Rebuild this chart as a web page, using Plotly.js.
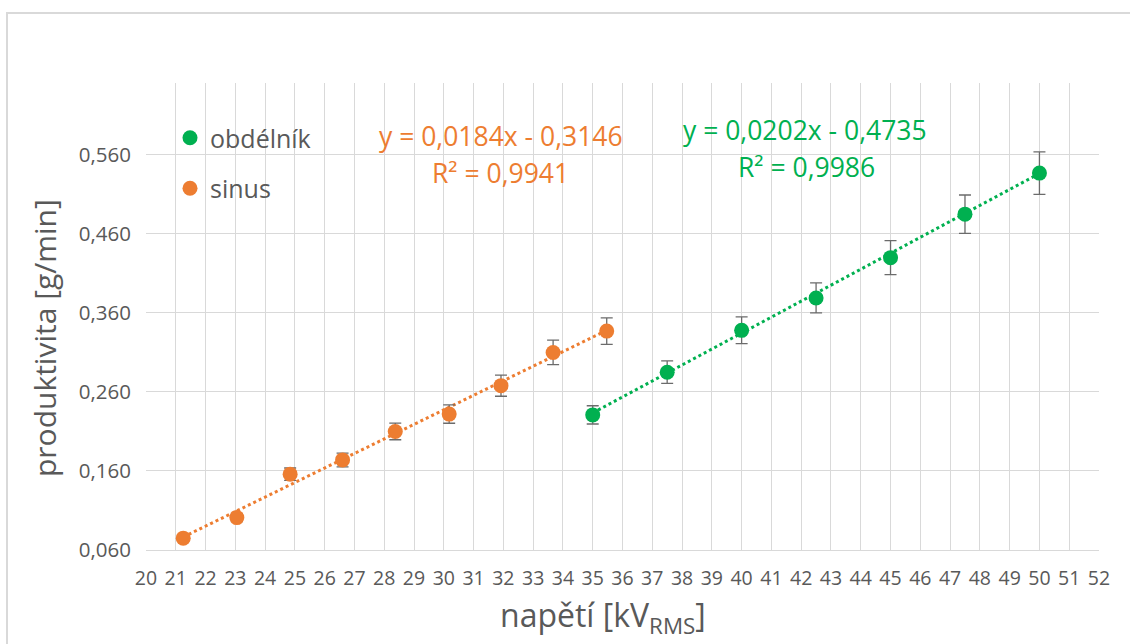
<!DOCTYPE html>
<html>
<head>
<meta charset="utf-8">
<script src="https://cdn.plot.ly/plotly-3.0.1.min.js"></script>
<style>
  html, body { margin: 0; padding: 0; background: #ffffff; }
  #chart { width: 1130px; height: 644px; }
</style>
</head>
<body>
<div id="chart"></div>
<script>
// ---- data ----
const seriesNames = ["obdélník", "sinus"];

const obdelnikX = [35.0, 37.5, 40.0, 42.5, 45.0, 47.5, 50.0];
const obdelnikY = [0.231, 0.285, 0.338, 0.379, 0.430, 0.485, 0.537];

const sinusX = [21.25, 23.05, 24.84, 26.6, 28.37, 30.18, 31.92, 33.67, 35.47];
const sinusY = [0.075, 0.101, 0.156, 0.174, 0.210, 0.232, 0.268, 0.310, 0.337];

const errorPercent = 5; // error bars: 5 % of value

// linear trendline coefficients shown in the chart [slope, intercept]
const obdelnikFit = [0.0202, -0.4735];
const sinusFit = [0.0184, -0.3146];

const obdelnikLabel = ["y = 0,0202x - 0,4735", "R² = 0,9986"];
const sinusLabel = ["y = 0,0184x - 0,3146", "R² = 0,9941"];

const xTitle = "napětí [kV<sub>RMS</sub>]";
const yTitle = "produktivita [g/min]";

const xTickVals = [];
for (let v = 20; v <= 52; v++) xTickVals.push(v);
const yTickVals = [0.06, 0.16, 0.26, 0.36, 0.46, 0.56];

// ---- styling ----
const GREEN = "#00B050";
const ORANGE = "#ED7D31";
const TEXT = "#595959";
const GRID = "#d9d9d9";
const FONT = "Open Sans, Noto Sans, sans-serif";

const W = 1130, H = 644;
const M = { l: 146, r: 31, t: 83, b: 94 };
const pw = W - M.l - M.r, ph = H - M.t - M.b;
const px2x = p => (p - M.l) / pw;
const py2y = p => (H - M.b - p) / ph;

function fitLine(xs, fit) {
  const x0 = Math.min(...xs), x1 = Math.max(...xs);
  return { x: [x0, x1], y: [fit[0] * x0 + fit[1], fit[0] * x1 + fit[1]] };
}
const gFit = fitLine(obdelnikX, obdelnikFit);
const sFit = fitLine(sinusX, sinusFit);

const errStyle = { type: "percent", value: errorPercent, visible: true,
                   color: "#6b6b6b", thickness: 1.3, width: 6 };

const traces = [
  { x: gFit.x, y: gFit.y, mode: "lines", showlegend: false, hoverinfo: "skip",
    line: { color: GREEN, width: 3, dash: "dot" } },
  { x: sFit.x, y: sFit.y, mode: "lines", showlegend: false, hoverinfo: "skip",
    line: { color: ORANGE, width: 3, dash: "dot" } },
  { x: obdelnikX, y: obdelnikY, name: seriesNames[0], mode: "markers", legendgroup: "a",
    marker: { color: GREEN, size: 15 }, error_y: errStyle },
  { x: sinusX, y: sinusY, name: seriesNames[1], mode: "markers", legendgroup: "b",
    marker: { color: ORANGE, size: 15 }, error_y: errStyle }
];

function ann(text, x, y, color) {
  return { text: text, xref: "x", yref: "y", x: x, y: y, showarrow: false,
           xanchor: "center", yanchor: "middle",
           font: { family: FONT, size: 26.5, color: color } };
}

const layout = {
  width: W, height: H,
  margin: M,
  paper_bgcolor: "#ffffff", plot_bgcolor: "#ffffff",
  separators: ", ",
  font: { family: FONT, color: TEXT },
  showlegend: true,
  legend: { x: px2x(170), y: py2y(115), xanchor: "left", yanchor: "top",
            bgcolor: "rgba(0,0,0,0)", font: { family: FONT, size: 25, color: TEXT },
            traceorder: "grouped", tracegroupgap: 15 },
  xaxis: {
    range: [20, 52], tickvals: xTickVals, showgrid: true, gridcolor: GRID, gridwidth: 1,
    zeroline: false, showline: true, linecolor: GRID, linewidth: 1,
    tickfont: { family: FONT, size: 19.5, color: TEXT }, ticklabelstandoff: 11
  },
  yaxis: {
    range: [0.06, 0.651], tickvals: yTickVals, tickformat: ".3f", showgrid: true,
    gridcolor: GRID, gridwidth: 1, zeroline: false, showline: false,
    tickfont: { family: FONT, size: 20.5, color: TEXT }, ticklabelstandoff: 14
  },
  shapes: [
    { type: "rect", xref: "paper", yref: "paper",
      x0: px2x(7), x1: px2x(1140), y0: py2y(660), y1: py2y(13),
      line: { color: GRID, width: 2 }, fillcolor: "rgba(0,0,0,0)", layer: "below" }
  ],
  annotations: [
    ann(sinusLabel[0], 31.92, 0.5838, ORANGE),
    ann(sinusLabel[1], 31.92, 0.5374, ORANGE),
    ann(obdelnikLabel[0], 42.14, 0.5914, GREEN),
    ann(obdelnikLabel[1], 42.17, 0.5450, GREEN),
    { text: xTitle, xref: "paper", yref: "paper", x: px2x(603), y: py2y(643),
      xanchor: "center", yanchor: "bottom", showarrow: false,
      font: { family: FONT, size: 32, color: TEXT } },
    { text: yTitle, xref: "paper", yref: "paper", x: px2x(44), y: py2y(338),
      xanchor: "center", yanchor: "middle", showarrow: false, textangle: -90,
      font: { family: FONT, size: 30, color: TEXT } }
  ]
};

Plotly.newPlot("chart", traces, layout, { displayModeBar: false, staticPlot: true });
</script>
</body>
</html>
